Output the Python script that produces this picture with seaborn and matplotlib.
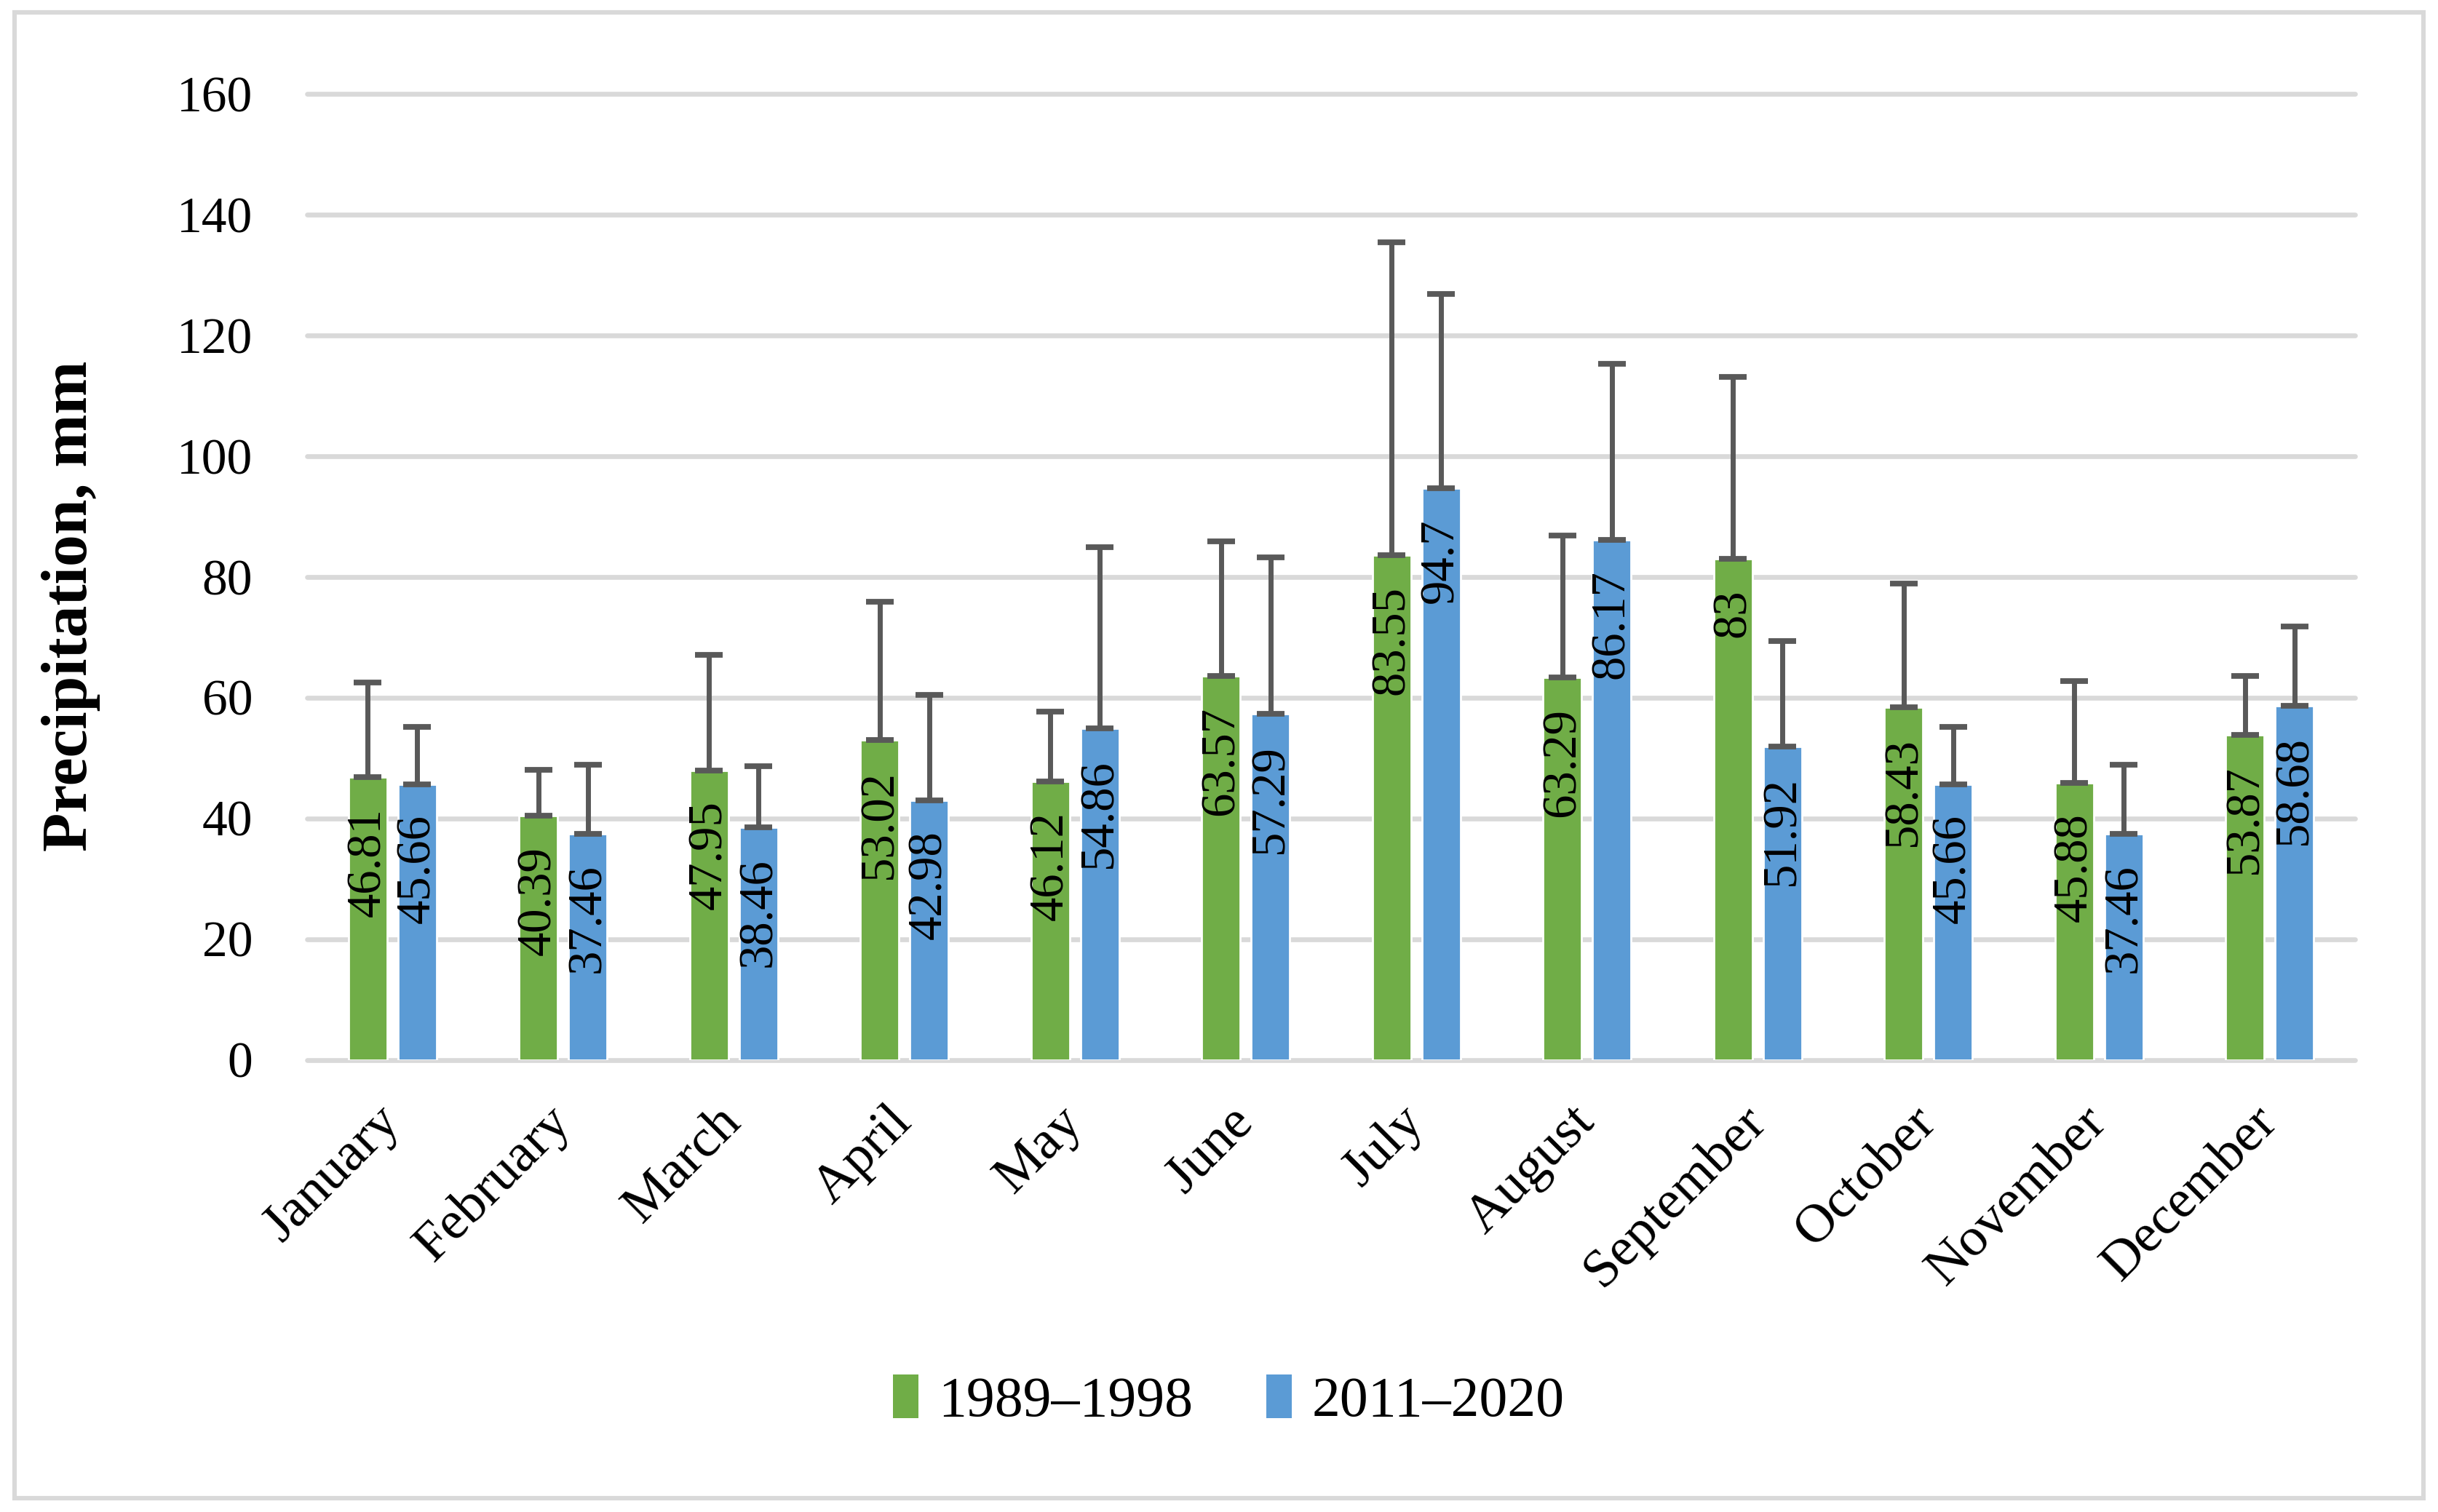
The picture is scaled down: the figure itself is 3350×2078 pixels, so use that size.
import numpy as np
import pandas as pd
import seaborn as sns
import matplotlib.pyplot as plt
from matplotlib.patches import Patch, Rectangle

# values
months = ["January", "February", "March", "April", "May", "June", "July",
          "August", "September", "October", "November", "December"]
periods = ["1989\u20131998", "2011\u20132020"]
precip_old = [46.81, 40.39, 47.95, 53.02, 46.12, 63.57, 83.55, 63.29, 83, 58.43, 45.88, 53.87]
precip_new = [45.66, 37.46, 38.46, 42.98, 54.86, 57.29, 94.7, 86.17, 51.92, 45.66, 37.46, 58.68]
err_old = [15.7, 7.6, 19.1, 22.9, 11.5, 22.3, 51.9, 23.5, 30.1, 20.5, 16.9, 9.7]
err_new = [9.5, 11.4, 10.2, 17.5, 30.1, 25.9, 32.1, 29.1, 17.5, 9.5, 11.4, 13.1]
colors = ["#70AD47", "#5B9BD5"]

df = pd.DataFrame({
    "month": months * 2,
    "period": [periods[0]] * 12 + [periods[1]] * 12,
    "value": precip_old + precip_new,
})

sns.set_style("white")
plt.rcParams["font.family"] = ["Liberation Serif", "DejaVu Serif"]
plt.rcParams.update({"text.color": "black", "axes.labelcolor": "black",
                     "xtick.color": "black", "ytick.color": "black"})

fig = plt.figure(figsize=(16.75, 10.39), dpi=200)
ax = fig.add_axes([0.126, 0.299, 0.840, 0.639])

sns.barplot(data=df, x="month", y="value", hue="period", palette=colors,
            width=0.58, gap=0.22, saturation=1, errorbar=None, legend=False, ax=ax)

# error bars (plus side only) and value labels
for cont, errs in zip(ax.containers, [err_old, err_new]):
    xs = [b.get_x() + b.get_width() / 2 for b in cont]
    hs = [b.get_height() for b in cont]
    ax.errorbar(xs, hs, yerr=[np.zeros(len(errs)), errs], fmt="none",
                ecolor="#595959", elinewidth=2.5, capsize=6.7, capthick=2.8, zorder=3)
    for x, h in zip(xs, hs):
        ax.annotate(f"{h:g}", xy=(x, h), xytext=(0, -15), textcoords="offset points",
                    rotation=90, ha="center", va="top", fontsize=24, color="black", zorder=4)

ax.set_xlim(-0.5, len(months) - 0.5)
ax.set_ylim(0, 160)
ax.set_yticks(range(0, 161, 20))
ax.yaxis.grid(True, color="#D9D9D9", linewidth=2.4)
for gl in ax.get_ygridlines():
    gl.set_clip_on(False)
ax.set_axisbelow(True)
sns.despine(ax=ax, left=True, top=True, right=True, bottom=True)

ax.set_xlabel("")
ax.set_ylabel("Precipitation, mm", fontsize=31.5, fontweight="bold")
ax.yaxis.set_label_coords(-0.101, 0.47)
ax.tick_params(axis="y", length=0, pad=27, labelsize=25)
ax.tick_params(axis="x", length=0, pad=27, labelsize=27)
plt.setp(ax.get_xticklabels(), rotation=45, ha="right", va="center", rotation_mode="anchor")

handles = [Patch(facecolor=c, edgecolor="none") for c in colors]
fig.legend(handles, periods, loc="center", bbox_to_anchor=(0.504, 0.073), ncol=2,
           frameon=False, fontsize=28, handlelength=0.45, handleheight=0.8,
           handletextpad=0.35, columnspacing=1.3)

fig.add_artist(Rectangle((0.006, 0.009), 0.988, 0.983, transform=fig.transFigure,
                         fill=False, edgecolor="#D9D9D9", linewidth=2.2))

fig.savefig("out.png", dpi=200, facecolor="white")
